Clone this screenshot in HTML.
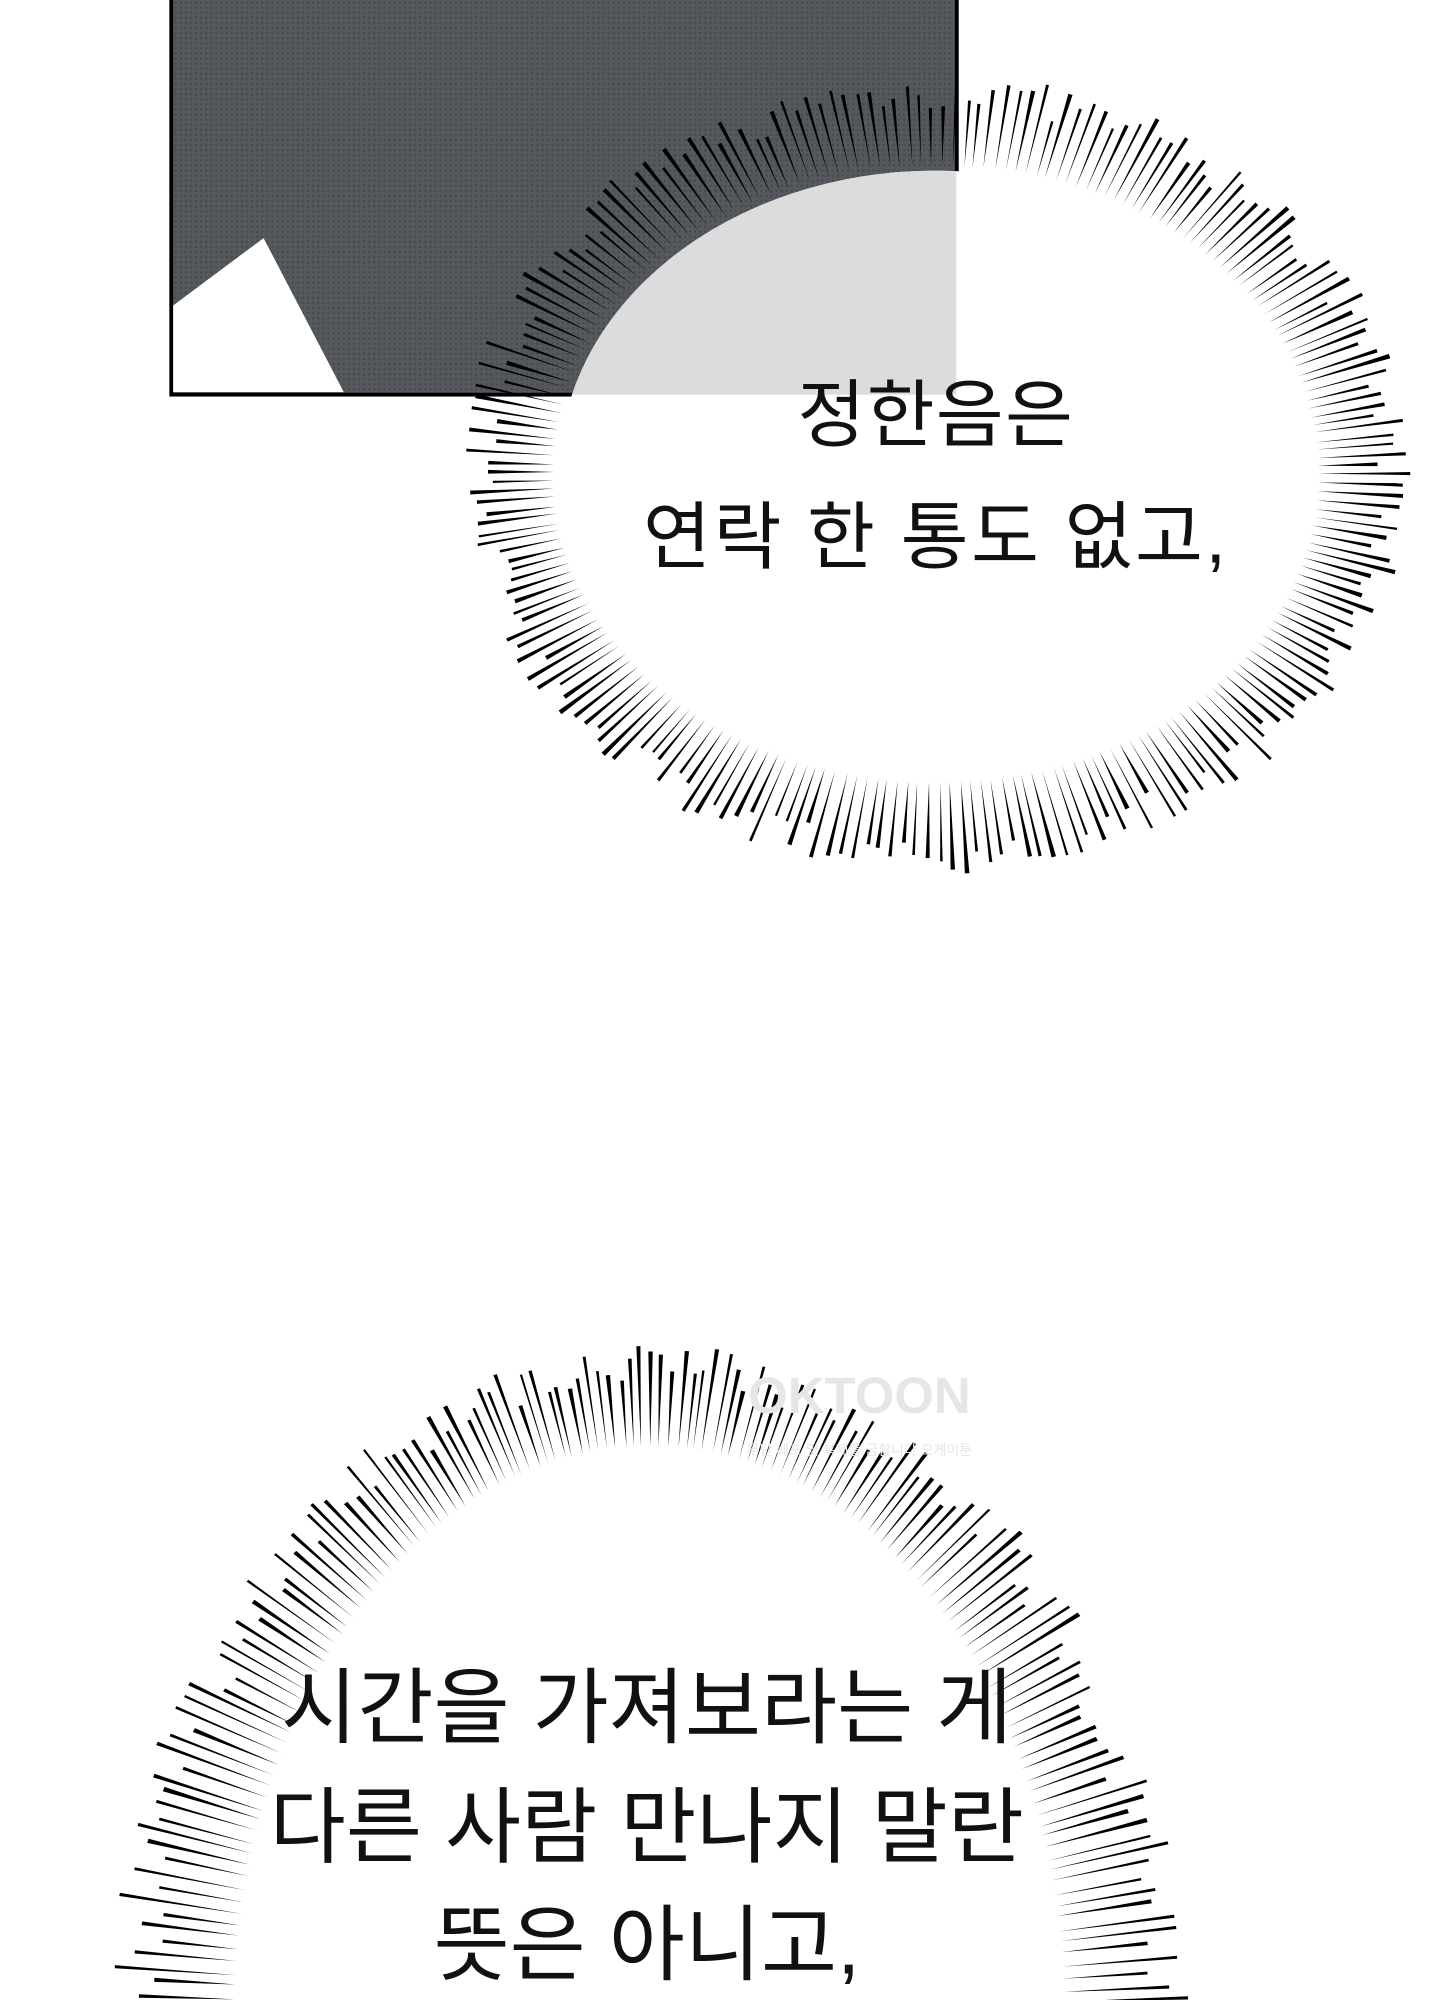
<!DOCTYPE html>
<html><head><meta charset="utf-8">
<style>
html,body{margin:0;padding:0;background:#fff;width:1440px;height:2000px;overflow:hidden;}
svg{display:block;}
text{font-family:"Liberation Sans","Noto Sans CJK KR","NanumGothic",sans-serif;}
</style></head>
<body>
<svg id="s" width="1440" height="2000" viewBox="0 0 1131 1571" preserveAspectRatio="none" xmlns="http://www.w3.org/2000/svg">
<defs>
<clipPath id="c1"><ellipse cx="735" cy="372" rx="296" ry="238"/></clipPath>
<pattern id="dots" width="4" height="4" patternUnits="userSpaceOnUse"><rect width="4" height="4" fill="#55585c"/><circle cx="2" cy="2" r="0.9" fill="#44474b"/></pattern>
</defs>
<rect x="0" y="0" width="1131" height="1571" fill="#fff"/>
<rect x="134.5" y="-5" width="617" height="315" fill="url(#dots)" stroke="#000" stroke-width="3"/>
<polygon points="136,240 207,187 270,308 136,308" fill="#fff"/>
<g id="b1"></g>
<ellipse cx="735" cy="372" rx="296" ry="238" fill="#fff"/>
<rect x="443" y="120" width="308" height="190" fill="#dcdcdc" clip-path="url(#c1)"/>
<text x="735" y="346" font-size="58" letter-spacing="1" text-anchor="middle" fill="#111">정한음은</text>
<text x="735" y="442" font-size="58" letter-spacing="2" text-anchor="middle" fill="#111">연락 한 통도 없고,</text>
<g id="b2"></g>
<ellipse cx="510" cy="1590" rx="322" ry="450" fill="#fff"/>
<text x="675" y="1110" font-size="40" font-weight="bold" text-anchor="middle" fill="#e6e6e6">OKTOON</text>
<text x="675" y="1143" font-size="11" text-anchor="middle" fill="#e6e6e6">무단 배포 및 복제를 금합니다 오케이툰</text>
<text x="508" y="1364" font-size="65" text-anchor="middle" fill="#111">시간을 가져보라는 게</text>
<text x="508" y="1458" font-size="65" text-anchor="middle" fill="#111">다른 사람 만나지 말란</text>
<text x="508" y="1550" font-size="65" text-anchor="middle" fill="#111">뜻은 아니고,</text>
</svg>
<script>
(function(){
var seed=7;function r(){seed=(seed*16807)%2147483647;return seed/2147483647;}
function burst(id,cx,cy,rx,ry,ox,oy,n){
 var g=document.getElementById(id),s='';
 for(var i=0;i<n;i++){
  var t=i/n*Math.PI*2+r()*0.008;
  var c=Math.cos(t),sn=Math.sin(t);
  var ix=cx+rx*c,iy=cy+ry*sn;
  var f=0.6+r()*0.4;
  var x2=cx+(rx+(ox-rx)*f)*c,y2=cy+(ry+(oy-ry)*f)*sn;
  var w=0.9+r()*0.9;
  var px=-sn*w,py=c*w;
  s+='<polygon points="'+ix.toFixed(1)+','+iy.toFixed(1)+' '+(x2+px).toFixed(1)+','+(y2+py).toFixed(1)+' '+(x2-px).toFixed(1)+','+(y2-py).toFixed(1)+'" fill="#000"/>';
 }
 g.innerHTML=s;
}
burst('b1',735,372,300,242,375,315,230);
burst('b2',510,1590,326,454,425,535,300);
})();
</script>
</body></html>
